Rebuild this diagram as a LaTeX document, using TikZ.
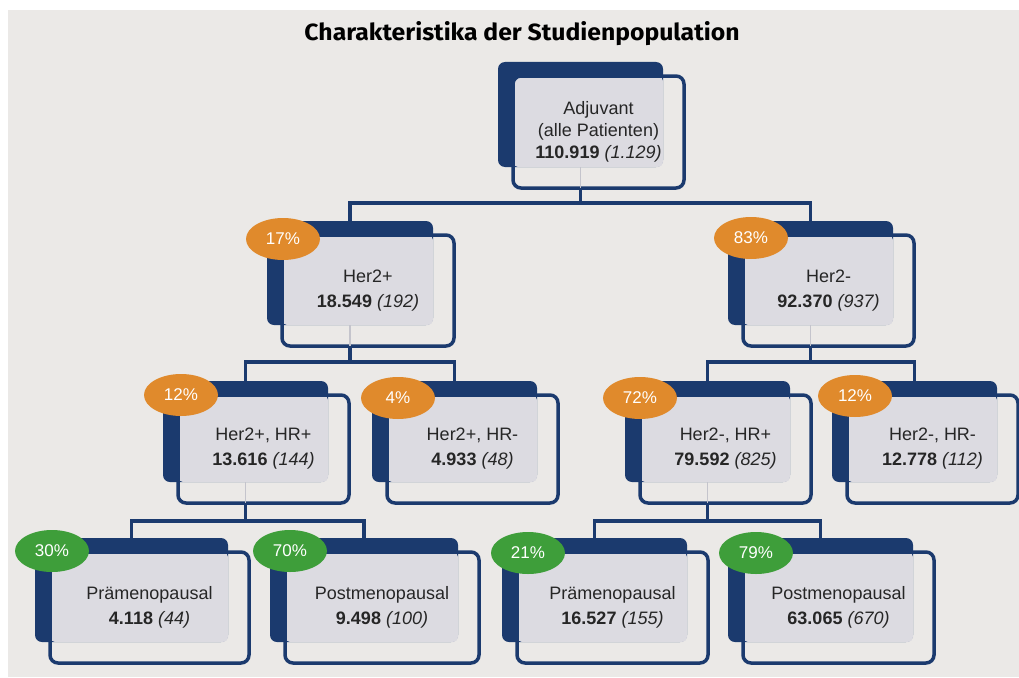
\documentclass[tikz,border=0pt]{standalone}
\usepackage{fontspec}
\usepackage{graphicx}
\setmainfont{Liberation Sans}
\newfontfamily\titlefont{Fira Sans}
\usetikzlibrary{shapes.geometric}
\definecolor{navy}{HTML}{1B3A6E}
\definecolor{bg}{HTML}{EBE9E7}
\definecolor{innergrey}{HTML}{DCDBE1}
\definecolor{orangebadge}{HTML}{E08A2C}
\definecolor{greenbadge}{HTML}{3E9E3A}
\definecolor{txt}{HTML}{262626}
\definecolor{faintc}{HTML}{C4C4CC}
\tikzset{
  darkblk/.style={fill=navy, rounded corners=7pt, inner sep=0pt, outer sep=0pt},
  outbox/.style={draw=navy, line width=3.5pt, rounded corners=8pt, inner sep=0pt, outer sep=0pt,
     align=center, text=txt, font=\fontsize{18}{25}\selectfont},
  conn/.style={draw=navy, line width=3.5pt},
  faintline/.style={draw=faintc, line width=1.5pt},
  badge/.style={ellipse, minimum width=74pt, minimum height=42pt, inner sep=0pt,
     text=white, font=\fontsize{17}{20}\selectfont},
}
% name, x, y, w, h (dark block), extra options, text
\newcommand\tnode[7]{%
  \node[darkblk, minimum width=#4pt, minimum height=#5pt, anchor=north west] (#1-d) at (#2,#3) {};
  \fill[innergrey, rounded corners=5pt] ([xshift=15pt,yshift=-14pt]#1-d.north west) rectangle (#1-d.south east);
  \node[outbox, minimum width=#4pt+6pt, minimum height=#5pt+7pt, anchor=north west, #6] (#1)
     at ([xshift=15pt,yshift=-14pt]#1-d.north west) {#7};
}
\begin{document}
\begin{tikzpicture}[x=1pt,y=-1pt]
\useasboundingbox (0,0) rectangle (1019,677);
\fill[white] (0,0) rectangle (1019,677);
\fill[bg] (8,10) rectangle (1019,677);

\node[anchor=base, inner sep=0pt] (title) at (522,41)
  {\resizebox{435pt}{19pt}{\titlefont\bfseries Charakteristika der Studienpopulation}};

\coordinate (b1) at (0,203);
\coordinate (b2) at (0,362);
\coordinate (b3) at (0,521);

\tnode{root}{498}{62}{165}{105}{font=\fontsize{18}{22}\selectfont}{Adjuvant\\(alle Patienten)\\\textbf{110.919} \textit{(1.129)}}
\tnode{her2p}{267}{221}{166}{104}{}{Her2+\\\textbf{18.549} \textit{(192)}}
\tnode{her2m}{728}{221}{165}{104}{}{Her2-\\\textbf{92.370} \textit{(937)}}
\tnode{hphrp}{163}{381}{165}{101}{}{Her2+, HR+\\\textbf{13.616} \textit{(144)}}
\tnode{hphrm}{372}{381}{165}{101}{}{Her2+, HR-\\\textbf{4.933} \textit{(48)}}
\tnode{hmhrp}{625}{381}{165}{101}{}{Her2-, HR+\\\textbf{79.592} \textit{(825)}}
\tnode{hmhrm}{832}{381}{165}{101}{}{Her2-, HR-\\\textbf{12.778} \textit{(112)}}
\tnode{pre1}{35}{538}{193}{104}{}{Prämenopausal\\\textbf{4.118} \textit{(44)}}
\tnode{post1}{270}{538}{188}{104}{}{Postmenopausal\\\textbf{9.498} \textit{(100)}}
\tnode{pre2}{502}{538}{185}{104}{}{Prämenopausal\\\textbf{16.527} \textit{(155)}}
\tnode{post2}{728}{538}{185}{104}{}{Postmenopausal\\\textbf{63.065} \textit{(670)}}

% faint stubs inside parent boxes
\foreach \n in {root,her2p,her2m,hphrp,hmhrp}
  \draw[faintline] (\n-d.south) -- (\n-d.south |- \n.south);

% connectors
\draw[conn] (root-d.south |- root.south) -- (root-d.south |- b1);
\draw[conn] (her2p-d.north) -- (her2p-d.north |- b1) -- (her2m-d.north |- b1) -- (her2m-d.north);

\draw[conn] (her2p-d.south |- her2p.south) -- (her2p-d.south |- b2);
\draw[conn] (hphrp-d.north) -- (hphrp-d.north |- b2) -- (hphrm-d.north |- b2) -- (hphrm-d.north);

\draw[conn] (her2m-d.south |- her2m.south) -- (her2m-d.south |- b2);
\draw[conn] (hmhrp-d.north) -- (hmhrp-d.north |- b2) -- (hmhrm-d.north |- b2) -- (hmhrm-d.north);

\draw[conn] (hphrp-d.south |- hphrp.south) -- (hphrp-d.south |- b3);
\draw[conn] (pre1-d.north) -- (pre1-d.north |- b3) -- (post1-d.north |- b3) -- (post1-d.north);

\draw[conn] (hmhrp-d.south |- hmhrp.south) -- (hmhrp-d.south |- b3);
\draw[conn] (pre2-d.north) -- (pre2-d.north |- b3) -- (post2-d.north |- b3) -- (post2-d.north);

% badges
\node[badge, fill=orangebadge] (p17) at (283,239) {17\%};
\node[badge, fill=orangebadge] (p83) at (751,238) {83\%};
\node[badge, fill=orangebadge] (p12a) at (181,395) {12\%};
\node[badge, fill=orangebadge] (p4) at (398,398) {4\%};
\node[badge, fill=orangebadge] (p72) at (640,398) {72\%};
\node[badge, fill=orangebadge] (p12b) at (855,396) {12\%};
\node[badge, fill=greenbadge] (p30) at (52,551) {30\%};
\node[badge, fill=greenbadge] (p70) at (290,551) {70\%};
\node[badge, fill=greenbadge] (p21) at (528,553) {21\%};
\node[badge, fill=greenbadge] (p79) at (756,553) {79\%};
\end{tikzpicture}
\end{document}
